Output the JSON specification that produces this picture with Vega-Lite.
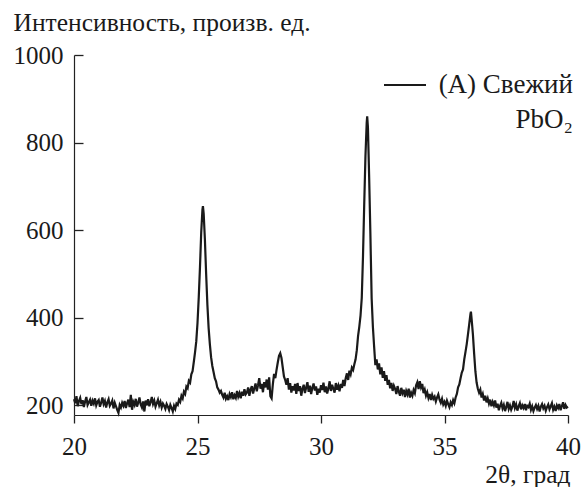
{
  "$schema": "https://vega.github.io/schema/vega-lite/v6.json",
  "autosize": {"type": "none"},
  "width": 494,
  "height": 360,
  "padding": {"left": 74, "top": 55, "right": 15, "bottom": 72},
  "background": "#ffffff",
  "config": {
    "view": {"stroke": null},
    "font": "Liberation Serif",
    "axis": {
      "grid": false,
      "domainColor": "#222222",
      "domainWidth": 1.2,
      "ticks": true,
      "tickColor": "#222222",
      "tickWidth": 1.3,
      "labelFlush": false,
      "labelFont": "Liberation Serif",
      "labelFontSize": 25,
      "labelColor": "#1a1a1a",
      "titleFont": "Liberation Serif",
      "titleFontSize": 25.5,
      "titleFontWeight": "normal",
      "titleColor": "#1a1a1a"
    }
  },
  "data": {
    "values": [
      {"t": 20.00, "i": 214}, {"t": 20.05, "i": 205}, {"t": 20.10, "i": 221}, {"t": 20.15, "i": 198}, {"t": 20.20, "i": 210},
      {"t": 20.25, "i": 217}, {"t": 20.30, "i": 203}, {"t": 20.35, "i": 212}, {"t": 20.40, "i": 196}, {"t": 20.45, "i": 209},
      {"t": 20.50, "i": 219}, {"t": 20.55, "i": 201}, {"t": 20.60, "i": 207}, {"t": 20.65, "i": 213}, {"t": 20.70, "i": 199},
      {"t": 20.75, "i": 211}, {"t": 20.80, "i": 204}, {"t": 20.85, "i": 216}, {"t": 20.90, "i": 200}, {"t": 20.95, "i": 208},
      {"t": 21.00, "i": 212}, {"t": 21.05, "i": 197}, {"t": 21.10, "i": 206}, {"t": 21.15, "i": 218}, {"t": 21.20, "i": 203},
      {"t": 21.25, "i": 210}, {"t": 21.30, "i": 195}, {"t": 21.35, "i": 207}, {"t": 21.40, "i": 214}, {"t": 21.45, "i": 199},
      {"t": 21.50, "i": 204}, {"t": 21.55, "i": 211}, {"t": 21.60, "i": 193}, {"t": 21.65, "i": 206}, {"t": 21.70, "i": 198},
      {"t": 21.75, "i": 190}, {"t": 21.80, "i": 183}, {"t": 21.85, "i": 201}, {"t": 21.90, "i": 195}, {"t": 21.95, "i": 206},
      {"t": 22.00, "i": 199}, {"t": 22.05, "i": 210}, {"t": 22.10, "i": 194}, {"t": 22.15, "i": 205}, {"t": 22.20, "i": 213},
      {"t": 22.25, "i": 196}, {"t": 22.30, "i": 224}, {"t": 22.35, "i": 190}, {"t": 22.40, "i": 208}, {"t": 22.45, "i": 201},
      {"t": 22.50, "i": 215}, {"t": 22.55, "i": 197}, {"t": 22.60, "i": 206}, {"t": 22.65, "i": 218}, {"t": 22.70, "i": 202},
      {"t": 22.75, "i": 195}, {"t": 22.80, "i": 209}, {"t": 22.85, "i": 186}, {"t": 22.90, "i": 211}, {"t": 22.95, "i": 200},
      {"t": 23.00, "i": 214}, {"t": 23.05, "i": 198}, {"t": 23.10, "i": 207}, {"t": 23.15, "i": 219}, {"t": 23.20, "i": 203},
      {"t": 23.25, "i": 211}, {"t": 23.30, "i": 197}, {"t": 23.35, "i": 205}, {"t": 23.40, "i": 213}, {"t": 23.45, "i": 200},
      {"t": 23.50, "i": 208}, {"t": 23.55, "i": 195}, {"t": 23.60, "i": 204}, {"t": 23.65, "i": 199}, {"t": 23.70, "i": 192},
      {"t": 23.75, "i": 203}, {"t": 23.80, "i": 197}, {"t": 23.85, "i": 189}, {"t": 23.90, "i": 201}, {"t": 23.95, "i": 194},
      {"t": 24.00, "i": 186}, {"t": 24.05, "i": 199}, {"t": 24.10, "i": 192}, {"t": 24.15, "i": 204}, {"t": 24.20, "i": 201},
      {"t": 24.25, "i": 213}, {"t": 24.30, "i": 208}, {"t": 24.35, "i": 222}, {"t": 24.40, "i": 216}, {"t": 24.45, "i": 231},
      {"t": 24.50, "i": 226}, {"t": 24.55, "i": 243}, {"t": 24.60, "i": 239}, {"t": 24.65, "i": 256}, {"t": 24.70, "i": 252},
      {"t": 24.75, "i": 271}, {"t": 24.80, "i": 278}, {"t": 24.85, "i": 299}, {"t": 24.90, "i": 321}, {"t": 24.95, "i": 346},
      {"t": 25.00, "i": 388}, {"t": 25.05, "i": 446}, {"t": 25.10, "i": 515}, {"t": 25.15, "i": 594}, {"t": 25.20, "i": 647},
      {"t": 25.22, "i": 655}, {"t": 25.25, "i": 638}, {"t": 25.30, "i": 578}, {"t": 25.35, "i": 500}, {"t": 25.40, "i": 430},
      {"t": 25.45, "i": 377}, {"t": 25.50, "i": 340}, {"t": 25.55, "i": 310}, {"t": 25.60, "i": 290}, {"t": 25.65, "i": 276},
      {"t": 25.70, "i": 262}, {"t": 25.75, "i": 255}, {"t": 25.80, "i": 241}, {"t": 25.85, "i": 236}, {"t": 25.90, "i": 229},
      {"t": 25.95, "i": 233},
      {"t": 26.00, "i": 224}, {"t": 26.05, "i": 218}, {"t": 26.10, "i": 229}, {"t": 26.15, "i": 215}, {"t": 26.20, "i": 221},
      {"t": 26.25, "i": 212}, {"t": 26.30, "i": 226}, {"t": 26.35, "i": 219}, {"t": 26.40, "i": 230}, {"t": 26.45, "i": 214},
      {"t": 26.50, "i": 223}, {"t": 26.55, "i": 217}, {"t": 26.60, "i": 233}, {"t": 26.65, "i": 220}, {"t": 26.70, "i": 228},
      {"t": 26.75, "i": 216}, {"t": 26.80, "i": 231}, {"t": 26.85, "i": 222}, {"t": 26.90, "i": 237}, {"t": 26.95, "i": 225},
      {"t": 27.00, "i": 229}, {"t": 27.05, "i": 241}, {"t": 27.10, "i": 222}, {"t": 27.15, "i": 236}, {"t": 27.20, "i": 244},
      {"t": 27.25, "i": 227}, {"t": 27.30, "i": 239}, {"t": 27.35, "i": 250}, {"t": 27.40, "i": 232}, {"t": 27.45, "i": 246},
      {"t": 27.50, "i": 262}, {"t": 27.55, "i": 238}, {"t": 27.60, "i": 249}, {"t": 27.65, "i": 230}, {"t": 27.70, "i": 253},
      {"t": 27.75, "i": 241}, {"t": 27.80, "i": 259}, {"t": 27.85, "i": 236}, {"t": 27.90, "i": 264}, {"t": 27.95, "i": 221},
      {"t": 28.00, "i": 216}, {"t": 28.05, "i": 248}, {"t": 28.10, "i": 272}, {"t": 28.15, "i": 262}, {"t": 28.20, "i": 281},
      {"t": 28.25, "i": 298}, {"t": 28.30, "i": 313}, {"t": 28.35, "i": 319}, {"t": 28.40, "i": 308}, {"t": 28.45, "i": 287},
      {"t": 28.50, "i": 266}, {"t": 28.55, "i": 258}, {"t": 28.60, "i": 247}, {"t": 28.65, "i": 262}, {"t": 28.70, "i": 236},
      {"t": 28.75, "i": 251}, {"t": 28.80, "i": 229}, {"t": 28.85, "i": 244}, {"t": 28.90, "i": 234}, {"t": 28.95, "i": 249},
      {"t": 29.00, "i": 226}, {"t": 29.05, "i": 251}, {"t": 29.10, "i": 233}, {"t": 29.15, "i": 244}, {"t": 29.20, "i": 222},
      {"t": 29.25, "i": 238}, {"t": 29.30, "i": 247}, {"t": 29.35, "i": 228}, {"t": 29.40, "i": 241}, {"t": 29.45, "i": 253},
      {"t": 29.50, "i": 231}, {"t": 29.55, "i": 245}, {"t": 29.60, "i": 226}, {"t": 29.65, "i": 240}, {"t": 29.70, "i": 250},
      {"t": 29.75, "i": 234}, {"t": 29.80, "i": 243}, {"t": 29.85, "i": 224}, {"t": 29.90, "i": 238}, {"t": 29.95, "i": 229},
      {"t": 30.00, "i": 246}, {"t": 30.05, "i": 235}, {"t": 30.10, "i": 252}, {"t": 30.15, "i": 230}, {"t": 30.20, "i": 243},
      {"t": 30.25, "i": 227}, {"t": 30.30, "i": 239}, {"t": 30.35, "i": 255}, {"t": 30.40, "i": 233}, {"t": 30.45, "i": 247},
      {"t": 30.50, "i": 238}, {"t": 30.55, "i": 229}, {"t": 30.60, "i": 251}, {"t": 30.65, "i": 236}, {"t": 30.70, "i": 245},
      {"t": 30.75, "i": 232}, {"t": 30.80, "i": 249}, {"t": 30.85, "i": 240}, {"t": 30.90, "i": 258}, {"t": 30.95, "i": 244},
      {"t": 31.00, "i": 262}, {"t": 31.05, "i": 273}, {"t": 31.10, "i": 258}, {"t": 31.15, "i": 279}, {"t": 31.20, "i": 271},
      {"t": 31.25, "i": 286}, {"t": 31.30, "i": 281}, {"t": 31.35, "i": 294}, {"t": 31.40, "i": 305}, {"t": 31.45, "i": 326},
      {"t": 31.50, "i": 358}, {"t": 31.55, "i": 379}, {"t": 31.60, "i": 405}, {"t": 31.65, "i": 445}, {"t": 31.70, "i": 540},
      {"t": 31.75, "i": 660}, {"t": 31.80, "i": 770}, {"t": 31.85, "i": 845}, {"t": 31.87, "i": 860}, {"t": 31.90, "i": 835},
      {"t": 31.95, "i": 720}, {"t": 32.00, "i": 590}, {"t": 32.05, "i": 445}, {"t": 32.10, "i": 380}, {"t": 32.15, "i": 335},
      {"t": 32.20, "i": 292}, {"t": 32.25, "i": 305}, {"t": 32.30, "i": 282}, {"t": 32.35, "i": 296}, {"t": 32.40, "i": 271},
      {"t": 32.45, "i": 287}, {"t": 32.50, "i": 263}, {"t": 32.55, "i": 278}, {"t": 32.60, "i": 256}, {"t": 32.65, "i": 269},
      {"t": 32.70, "i": 247}, {"t": 32.75, "i": 258}, {"t": 32.80, "i": 239}, {"t": 32.85, "i": 251}, {"t": 32.90, "i": 233},
      {"t": 32.95, "i": 245},
      {"t": 33.00, "i": 238}, {"t": 33.05, "i": 226}, {"t": 33.10, "i": 244}, {"t": 33.15, "i": 231}, {"t": 33.20, "i": 222},
      {"t": 33.25, "i": 240}, {"t": 33.30, "i": 228}, {"t": 33.35, "i": 236}, {"t": 33.40, "i": 219}, {"t": 33.45, "i": 233},
      {"t": 33.50, "i": 225}, {"t": 33.55, "i": 238}, {"t": 33.60, "i": 218}, {"t": 33.65, "i": 229}, {"t": 33.70, "i": 222},
      {"t": 33.75, "i": 235}, {"t": 33.80, "i": 228}, {"t": 33.85, "i": 246}, {"t": 33.90, "i": 253}, {"t": 33.95, "i": 237},
      {"t": 34.00, "i": 255}, {"t": 34.05, "i": 241}, {"t": 34.10, "i": 249}, {"t": 34.15, "i": 228}, {"t": 34.20, "i": 236},
      {"t": 34.25, "i": 222}, {"t": 34.30, "i": 230}, {"t": 34.35, "i": 217}, {"t": 34.40, "i": 226}, {"t": 34.45, "i": 212},
      {"t": 34.50, "i": 224}, {"t": 34.55, "i": 215}, {"t": 34.60, "i": 220}, {"t": 34.65, "i": 209}, {"t": 34.70, "i": 218},
      {"t": 34.75, "i": 225}, {"t": 34.80, "i": 213}, {"t": 34.85, "i": 206}, {"t": 34.90, "i": 215}, {"t": 34.95, "i": 202},
      {"t": 35.00, "i": 208}, {"t": 35.05, "i": 199}, {"t": 35.10, "i": 211}, {"t": 35.15, "i": 203}, {"t": 35.20, "i": 196},
      {"t": 35.25, "i": 207}, {"t": 35.30, "i": 201}, {"t": 35.35, "i": 212}, {"t": 35.40, "i": 205}, {"t": 35.45, "i": 218},
      {"t": 35.50, "i": 226}, {"t": 35.55, "i": 241}, {"t": 35.60, "i": 248}, {"t": 35.65, "i": 262}, {"t": 35.70, "i": 275},
      {"t": 35.75, "i": 282}, {"t": 35.80, "i": 305}, {"t": 35.85, "i": 322}, {"t": 35.90, "i": 340}, {"t": 35.95, "i": 362},
      {"t": 36.00, "i": 385}, {"t": 36.05, "i": 408}, {"t": 36.07, "i": 414}, {"t": 36.10, "i": 396}, {"t": 36.15, "i": 362},
      {"t": 36.20, "i": 318}, {"t": 36.25, "i": 278}, {"t": 36.30, "i": 252}, {"t": 36.35, "i": 238}, {"t": 36.40, "i": 229},
      {"t": 36.45, "i": 236}, {"t": 36.50, "i": 218}, {"t": 36.55, "i": 226}, {"t": 36.60, "i": 211}, {"t": 36.65, "i": 222},
      {"t": 36.70, "i": 207}, {"t": 36.75, "i": 216}, {"t": 36.80, "i": 204}, {"t": 36.85, "i": 213}, {"t": 36.90, "i": 198},
      {"t": 36.95, "i": 208},
      {"t": 37.00, "i": 200}, {"t": 37.05, "i": 211}, {"t": 37.10, "i": 195}, {"t": 37.15, "i": 204}, {"t": 37.20, "i": 189},
      {"t": 37.25, "i": 199}, {"t": 37.30, "i": 206}, {"t": 37.35, "i": 193}, {"t": 37.40, "i": 201}, {"t": 37.45, "i": 187},
      {"t": 37.50, "i": 196}, {"t": 37.55, "i": 208}, {"t": 37.60, "i": 192}, {"t": 37.65, "i": 200}, {"t": 37.70, "i": 190},
      {"t": 37.75, "i": 197}, {"t": 37.80, "i": 210}, {"t": 37.85, "i": 194}, {"t": 37.90, "i": 202}, {"t": 37.95, "i": 188},
      {"t": 38.00, "i": 198}, {"t": 38.05, "i": 205}, {"t": 38.10, "i": 191}, {"t": 38.15, "i": 200}, {"t": 38.20, "i": 194},
      {"t": 38.25, "i": 203}, {"t": 38.30, "i": 189}, {"t": 38.35, "i": 199}, {"t": 38.40, "i": 196}, {"t": 38.45, "i": 204},
      {"t": 38.50, "i": 190}, {"t": 38.55, "i": 198}, {"t": 38.60, "i": 187}, {"t": 38.65, "i": 195}, {"t": 38.70, "i": 201},
      {"t": 38.75, "i": 192}, {"t": 38.80, "i": 199}, {"t": 38.85, "i": 186}, {"t": 38.90, "i": 197}, {"t": 38.95, "i": 203},
      {"t": 39.00, "i": 193}, {"t": 39.05, "i": 199}, {"t": 39.10, "i": 188}, {"t": 39.15, "i": 196}, {"t": 39.20, "i": 202},
      {"t": 39.25, "i": 191}, {"t": 39.30, "i": 198}, {"t": 39.35, "i": 205}, {"t": 39.40, "i": 190}, {"t": 39.45, "i": 197},
      {"t": 39.50, "i": 187}, {"t": 39.55, "i": 200}, {"t": 39.60, "i": 194}, {"t": 39.65, "i": 203}, {"t": 39.70, "i": 189},
      {"t": 39.75, "i": 198}, {"t": 39.80, "i": 207}, {"t": 39.85, "i": 192}, {"t": 39.90, "i": 201}, {"t": 39.95, "i": 195},
      {"t": 40.00, "i": 197}
    ]
  },
  "transform": [{"calculate": "'A'", "as": "sample"}],
  "layer": [
    {
      "mark": {"type": "line", "strokeWidth": 2.2, "interpolate": "linear"},
      "encoding": {
        "x": {
          "field": "t",
          "type": "quantitative",
          "scale": {"domain": [20, 40], "nice": false, "zero": false},
          "axis": {
            "values": [20, 25, 30, 35, 40],
            "format": "d",
            "tickSize": 8,
            "labelPadding": 11,
            "title": "2θ, град",
            "titleAnchor": "end",
            "titleAlign": "right",
            "titleBaseline": "alphabetic",
            "titleX": 496,
            "titleY": 67
          }
        },
        "y": {
          "field": "i",
          "type": "quantitative",
          "scale": {"domain": [178, 1000], "nice": false, "zero": false},
          "axis": {
            "values": [200, 400, 600, 800, 1000],
            "format": "d",
            "ticks": false,
            "labelPadding": 11,
            "title": "Интенсивность, произв. ед.",
            "titleAngle": 0,
            "titleAlign": "left",
            "titleBaseline": "alphabetic",
            "titleX": -61,
            "titleY": -25
          }
        },
        "color": {
          "field": "sample",
          "type": "nominal",
          "scale": {"range": ["#1a1a1a"]},
          "legend": {
            "orient": "none",
            "legendX": 309,
            "legendY": 8,
            "title": null,
            "symbolType": "stroke",
            "symbolSize": 1764,
            "symbolStrokeWidth": 2,
            "labelFont": "Liberation Serif",
            "labelFontSize": 27,
            "labelColor": "#1a1a1a",
            "labelAlign": "right",
            "labelBaseline": "alphabetic",
            "labelOffset": 146,
            "labelLimit": 0,
            "labelExpr": "['(A) Свежий', 'PbO₂']",
            "encode": {
              "labels": {
                "update": {
                  "dy": {"value": 8},
                  "lineHeight": {"value": 35}
                }
              }
            }
          }
        }
      }
    },
    {
      "mark": {"type": "line", "strokeOpacity": 0},
      "encoding": {
        "x": {"field": "t", "type": "quantitative"},
        "y": {
          "field": "i",
          "type": "quantitative",
          "axis": {
            "orient": "right",
            "offset": -494,
            "values": [200, 400, 600, 800, 1000],
            "labels": false,
            "domain": false,
            "tickSize": 9,
            "title": null
          }
        }
      }
    }
  ],
  "resolve": {"axis": {"y": "independent"}}
}
